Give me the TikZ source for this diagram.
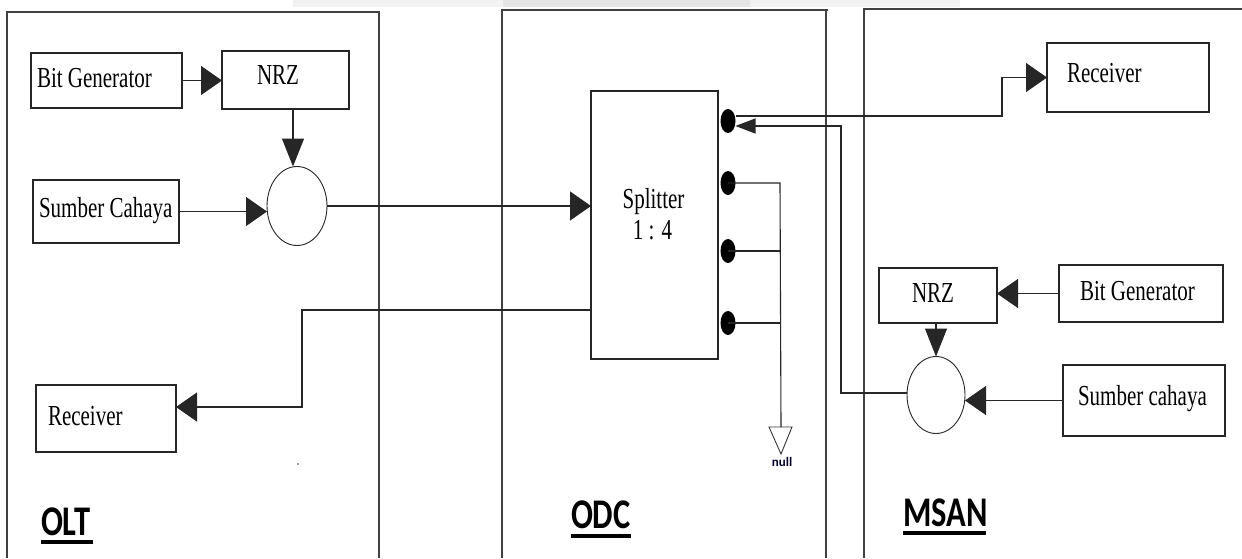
\documentclass[tikz,border=0pt]{standalone}
\usepackage{fontspec}
\setmainfont{Liberation Serif}
\newfontfamily\labfont{Carlito}
\usetikzlibrary{arrows.meta,shapes.geometric}
\newcommand{\sx}[1]{\scalebox{1}[1.38]{#1}}
\newcommand{\lx}[1]{\scalebox{1}[1.3]{#1}}
\begin{document}
\begin{tikzpicture}[x=1pt,y=-1pt,
  box/.style={draw=black!85,line width=1.3pt,rectangle,inner sep=0pt,outer sep=0pt},
  modu/.style={draw=black!85,line width=0.9pt,ellipse,inner sep=0pt,outer sep=0pt},
  dotn/.style={fill=black,ellipse,minimum width=15pt,minimum height=24pt,inner sep=0pt,outer sep=0pt},
  txt/.style={inner sep=0pt,outer sep=0pt,font=\fontsize{21}{25}\selectfont},
  lab/.style={inner sep=0pt,outer sep=0pt,font=\fontsize{32.5}{38}\labfont\bfseries},
  conn/.style={draw=black!85,line width=1.1pt},
  harr/.style={conn,-{Triangle[length=21pt,width=29pt]}},
  varr/.style={conn,-{Triangle[length=28pt,width=22pt]}},
  sarr/.style={conn,-{Triangle[length=20pt,width=15pt]}},
  panel/.style={draw=black!75,line width=1.2pt},
  uline/.style={draw=black,line width=3.5pt}
]
\useasboundingbox (0,0) rectangle (1242,558);
\fill[white] (0,0) rectangle (1242,558);
% top strip
\fill[black!5] (293,0) rectangle (960,7);
\fill[black!10] (503,0) rectangle (750,7);

% panels
\draw[panel] (7,558) -- (7,12) -- (379,12) -- (379,558);
\draw[panel] (502,558) -- (502,10) -- (828,10);
\draw[panel] (826,10) -- (826,558);
\draw[panel] (864,558) -- (864,9) -- (1242,9);

% OLT
\node[box,minimum width=151pt,minimum height=55pt] (bg1) at (106.5,80.5) {};
\node[txt,anchor=base west] (bg1t) at (37,87) {\sx{Bit Generator}};
\node[box,minimum width=127pt,minimum height=58pt] (nrz1) at (285.5,80) {};
\node[txt,anchor=base west] (nrz1t) at (257,84) {\sx{NRZ}};
\node[box,minimum width=146pt,minimum height=63pt] (sc1) at (106,211.5) {};
\node[txt,anchor=base west] (sc1t) at (39,217) {\sx{Sumber Cahaya}};
\node[box,minimum width=140pt,minimum height=67pt] (rx1) at (106,418.5) {};
\node[txt,anchor=base west] (rx1t) at (48,425) {\sx{Receiver}};
\node[modu,minimum width=60pt,minimum height=79pt] (mod1) at (297,206) {};
\node[fill=black!80,circle,inner sep=0pt,minimum size=1.6pt] (dot0) at (298,464) {};

% ODC
\node[box,minimum width=127pt,minimum height=268pt] (spl) at (654.5,225) {};
\node[txt,anchor=base] (splt) at (653.5,208) {\sx{Splitter}};
\node[txt,anchor=base] (splr) at (652.5,239) {\sx{1 : 4}};
\node[dotn] (d1) at (728,121) {};
\node[dotn] (d2) at (728,183) {};
\node[dotn] (d3) at (728,251) {};
\node[dotn] (d4) at (728,323) {};
\coordinate (nl1) at (769,427);
\coordinate (nl2) at (792,427);
\coordinate (nl3) at (781,454);
\draw[draw=black!80,line width=0.9pt] (nl1) -- (nl2) -- (nl3) -- cycle;
\node[inner sep=0pt,font=\fontsize{13}{15}\labfont\bfseries,text=black!85!blue,anchor=base] (nullt) at (782,466) {null};

% MSAN
\node[box,minimum width=162pt,minimum height=69pt] (rx2) at (1128,77.5) {};
\node[txt,anchor=base west] (rx2t) at (1067,82) {\sx{Receiver}};
\node[box,minimum width=118pt,minimum height=55pt] (nrz2) at (938,295.5) {};
\node[txt,anchor=base west] (nrz2t) at (912,302) {\sx{NRZ}};
\node[box,minimum width=164pt,minimum height=57pt] (bg2) at (1141,293.5) {};
\node[txt,anchor=base west] (bg2t) at (1080,300) {\sx{Bit Generator}};
\node[box,minimum width=162pt,minimum height=71pt] (sc2) at (1144,400.5) {};
\node[txt,anchor=base west] (sc2t) at (1078,405) {\sx{Sumber cahaya}};
\node[modu,minimum width=58pt,minimum height=77pt] (mod2) at (936,395) {};

% labels
\node[lab,anchor=base west] (olt) at (41,535) {\lx{OLT}};
\draw[uline] (olt.base west) ++(0,7) -- ++(52,0);
\node[lab,anchor=base west] (odc) at (571,528) {\lx{ODC}};
\draw[uline] (odc.base west) ++(0,8) -- ++(60,0);
\node[lab,anchor=base west] (msan) at (903,526) {\lx{MSAN}};
\draw[uline] (msan.base west) ++(0,7) -- ++(83,0);

% OLT connectors
\draw[harr] (bg1.east) -- (bg1.east -| nrz1.west);
\coordinate (m1top) at ([xshift=-4pt]mod1.north);
\draw[varr] (nrz1.south -| m1top) -- (m1top);
\draw[harr] (sc1.east) -- (sc1.east -| mod1.west);
\draw[harr] (mod1.east) -- (mod1.east -| spl.west);
\coordinate (c1) at (302,310);
\coordinate (c2) at (302,407);
\draw[harr] (spl.west |- c1) -- (c1) -- (c2) -- (c2 -| rx1.east);

% ODC connectors
\coordinate (u1) at (1002,116);
\coordinate (u2) at (1002,77.5);
\draw[harr] (d1.east |- u1) -- (u1) -- (u2) -- (u2 -| rx2.west);
\coordinate (v1) at (841,126);
\coordinate (v2) at (841,393);
\draw[sarr] (v2 -| mod2.west) -- (v2) -- (v1) -- (v1 -| d1.east);
\coordinate (w1) at (780,183);
\draw[conn] (d2.center) -- (w1) -- (nl3 |- nl1);
\draw[conn] (d3.center) -- (d3.center -| w1);
\draw[conn] (d4.center) -- (d4.center -| w1);

% MSAN connectors
\draw[harr] (bg2.west) -- (bg2.west -| nrz2.east);
\draw[varr] (nrz2.south -| mod2.north) -- (mod2.north);
\draw[harr] (sc2.west) -- (sc2.west -| mod2.east);
\end{tikzpicture}
\end{document}
